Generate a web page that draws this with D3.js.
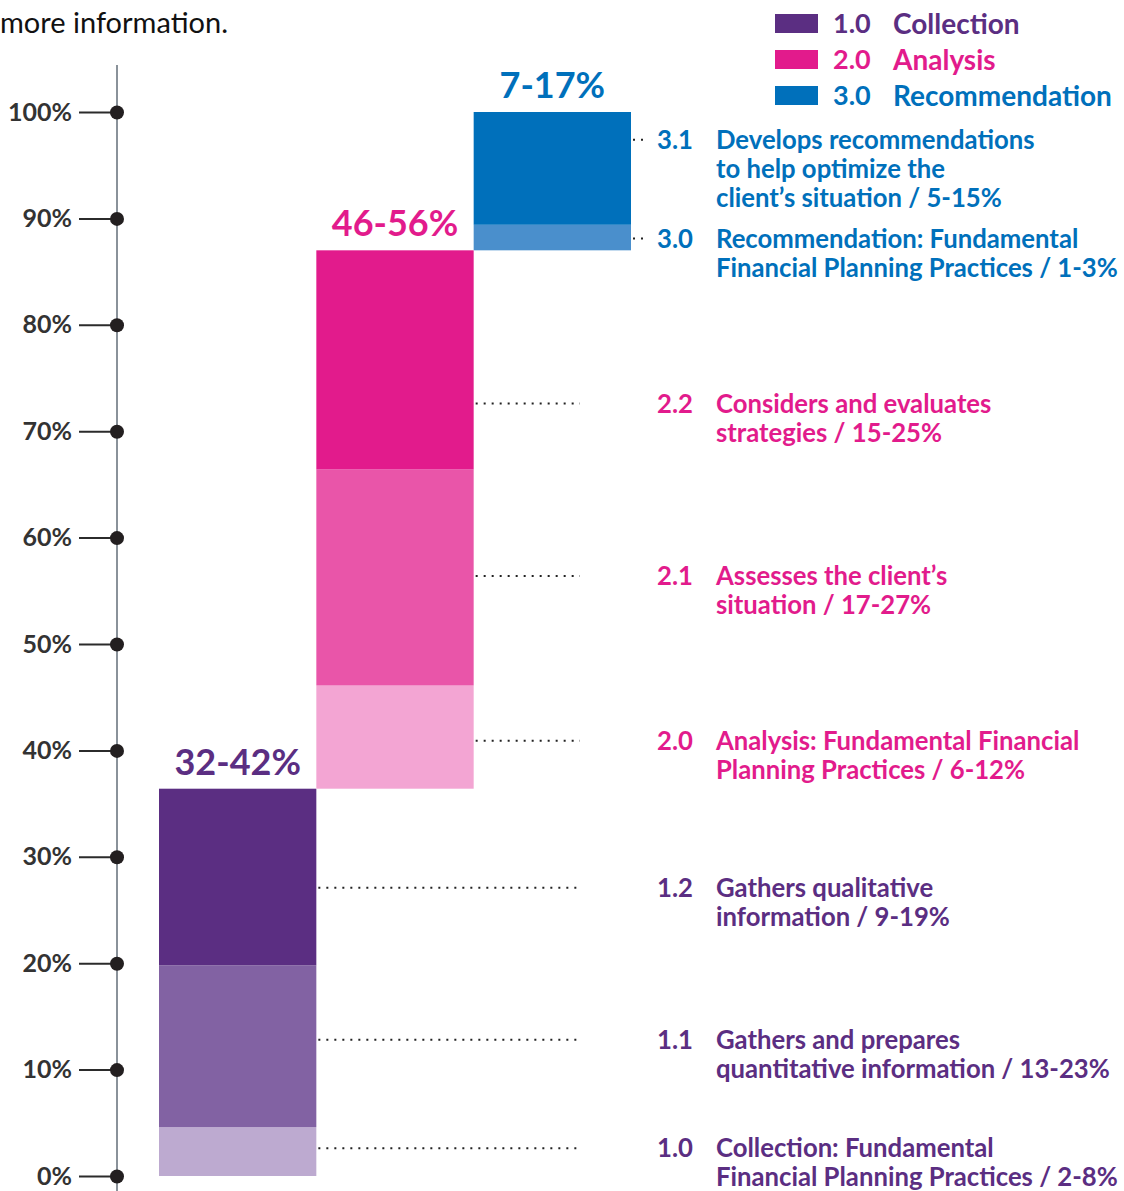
<!DOCTYPE html>
<html>
<head>
<meta charset="utf-8">
<script src="https://cdn.jsdelivr.net/npm/d3@7"></script>
<style>
  body { margin: 0; background: #fff; }
  text { font-family: Lato, "Open Sans", sans-serif; }
</style>
</head>
<body>
<div id="chart"></div>
<script>
// Set dimensions for the page
const width = 1124;
const height = 1191;

// Data
const groups = ["Collection", "Analysis", "Recommendation"];
const groupCodes = ["1.0", "2.0", "3.0"];
const groupRanges = ["32-42%", "46-56%", "7-17%"];

const segCodes = ["1.0", "1.1", "1.2", "2.0", "2.1", "2.2", "3.0", "3.1"];
const segGroup = ["Collection", "Collection", "Collection", "Analysis", "Analysis", "Analysis", "Recommendation", "Recommendation"];
const segValues = [4.6, 15.2, 16.6, 9.7, 20.3, 20.6, 2.4, 10.6];
const segLabels = [
  ["Collection: Fundamental", "Financial Planning Practices / 2-8%"],
  ["Gathers and prepares", "quantitative information / 13-23%"],
  ["Gathers qualitative", "information / 9-19%"],
  ["Analysis: Fundamental Financial", "Planning Practices / 6-12%"],
  ["Assesses the client\u2019s", "situation / 17-27%"],
  ["Considers and evaluates", "strategies / 15-25%"],
  ["Recommendation: Fundamental", "Financial Planning Practices / 1-3%"],
  ["Develops recommendations", "to help optimize the", "client\u2019s situation / 5-15%"]
];
// where each label's leader line sits, in % of the scale
const leaderAt = [2.6, 12.8, 27.1, 40.9, 56.4, 72.6, 88.1, 97.4];
const yTicks = [0, 10, 20, 30, 40, 50, 60, 70, 80, 90, 100];

// Colours
const groupColor = d3.scaleOrdinal()
  .domain(groups)
  .range(["#5b2e82", "#e21b8c", "#0070bb"]);

const segColor = d3.scaleOrdinal()
  .domain(segCodes)
  .range(["#bdaad0", "#8262a3", "#5b2e82", "#f3a5d3", "#e955a9", "#e21b8c", "#4a8fcc", "#0070bb"]);

// stack segments into a waterfall
let run = 0;
const segs = segValues.map((v, i) => {
  const s = { code: segCodes[i], group: segGroup[i], y0: run, y1: run + v, lines: segLabels[i], at: leaderAt[i] };
  run += v;
  return s;
});

const svg = d3.select("#chart")
  .append("svg")
  .attr("width", width)
  .attr("height", height)
  .attr("viewBox", [0, 0, width, height]);

// Scales
const yScale = d3.scaleLinear()
  .domain([0, 100])
  .range([1176, 112]);

const xScale = d3.scaleBand()
  .domain(groups)
  .range([159, 631])
  .padding(0);

// Intro text (tail of a paragraph above the chart)
svg.append("text")
  .attr("x", 0)
  .attr("y", 33)
  .attr("font-size", "29px")
  .attr("fill", "#111")
  .text("more information.");

// Y axis
svg.append("line")
  .attr("x1", 117).attr("x2", 117)
  .attr("y1", 65).attr("y2", height)
  .attr("stroke", "#8a929a")
  .attr("stroke-width", 2);

const yAxis = svg.append("g")
  .attr("transform", "translate(117,0)")
  .call(d3.axisLeft(yScale)
    .tickValues(yTicks)
    .tickFormat(d => d + "%")
    .tickSize(38)
    .tickPadding(7));

yAxis.select(".domain").remove();
yAxis.selectAll(".tick line")
  .attr("stroke", "#2b2b2b")
  .attr("stroke-width", 2);
yAxis.selectAll(".tick text")
  .attr("font-family", "Lato, sans-serif")
  .attr("font-size", "25px")
  .attr("font-weight", 700)
  .attr("fill", "#333");
yAxis.selectAll(".tick")
  .append("circle")
  .attr("r", 7)
  .attr("fill", "#231f20");

// Bars
svg.selectAll(".seg")
  .data(segs)
  .enter()
  .append("rect")
  .attr("class", "seg")
  .attr("x", d => xScale(d.group))
  .attr("width", xScale.bandwidth())
  .attr("y", d => yScale(d.y1))
  .attr("height", d => yScale(d.y0) - yScale(d.y1))
  .attr("fill", d => segColor(d.code));

// Group range labels above each bar
const tops = groups.map(g => d3.max(segs.filter(s => s.group === g), s => s.y1));
svg.selectAll(".grp")
  .data(groups)
  .enter()
  .append("text")
  .attr("class", "grp")
  .attr("x", g => xScale(g) + xScale.bandwidth() / 2)
  .attr("y", (g, i) => yScale(tops[i]) - 14)
  .attr("text-anchor", "middle")
  .attr("font-size", "36px")
  .attr("font-weight", 700)
  .attr("fill", g => groupColor(g))
  .text((g, i) => groupRanges[i]);

// Leader lines
svg.selectAll(".leader")
  .data(segs)
  .enter()
  .append("line")
  .attr("class", "leader")
  .attr("x1", d => xScale(d.group) + xScale.bandwidth() + 2)
  .attr("x2", d => d.group === "Recommendation" ? 644 : 580)
  .attr("y1", d => yScale(d.at))
  .attr("y2", d => yScale(d.at))
  .attr("stroke", "#222")
  .attr("stroke-width", 2)
  .attr("stroke-dasharray", "2 6");

// Segment labels
const lab = svg.selectAll(".lab")
  .data(segs)
  .enter()
  .append("g")
  .attr("class", "lab")
  .attr("transform", d => `translate(0,${yScale(d.at)})`)
  .attr("fill", d => groupColor(d.group))
  .attr("font-size", "25.7px")
  .attr("font-weight", 700);

lab.append("text")
  .attr("x", 657)
  .attr("dy", "0.35em")
  .text(d => d.code);

lab.each(function(d) {
  d3.select(this).selectAll(".ln")
    .data(d.lines)
    .enter()
    .append("text")
    .attr("class", "ln")
    .attr("x", 716)
    .attr("y", (t, i) => i * 29)
    .attr("dy", "0.35em")
    .text(t => t);
});

// Legend
const legend = svg.selectAll(".legend")
  .data(groups)
  .enter()
  .append("g")
  .attr("class", "legend")
  .attr("transform", (g, i) => `translate(775,${14 + i * 36})`);

legend.append("rect")
  .attr("width", 43)
  .attr("height", 19)
  .attr("fill", g => groupColor(g));

legend.append("text")
  .attr("x", 58)
  .attr("y", 10)
  .attr("dy", "0.35em")
  .attr("font-size", "27px")
  .attr("font-weight", 700)
  .attr("fill", g => groupColor(g))
  .text((g, i) => groupCodes[i]);

legend.append("text")
  .attr("x", 118)
  .attr("y", 10)
  .attr("dy", "0.35em")
  .attr("font-size", "28px")
  .attr("font-weight", 700)
  .attr("fill", g => groupColor(g))
  .text(g => g);
</script>
</body>
</html>
